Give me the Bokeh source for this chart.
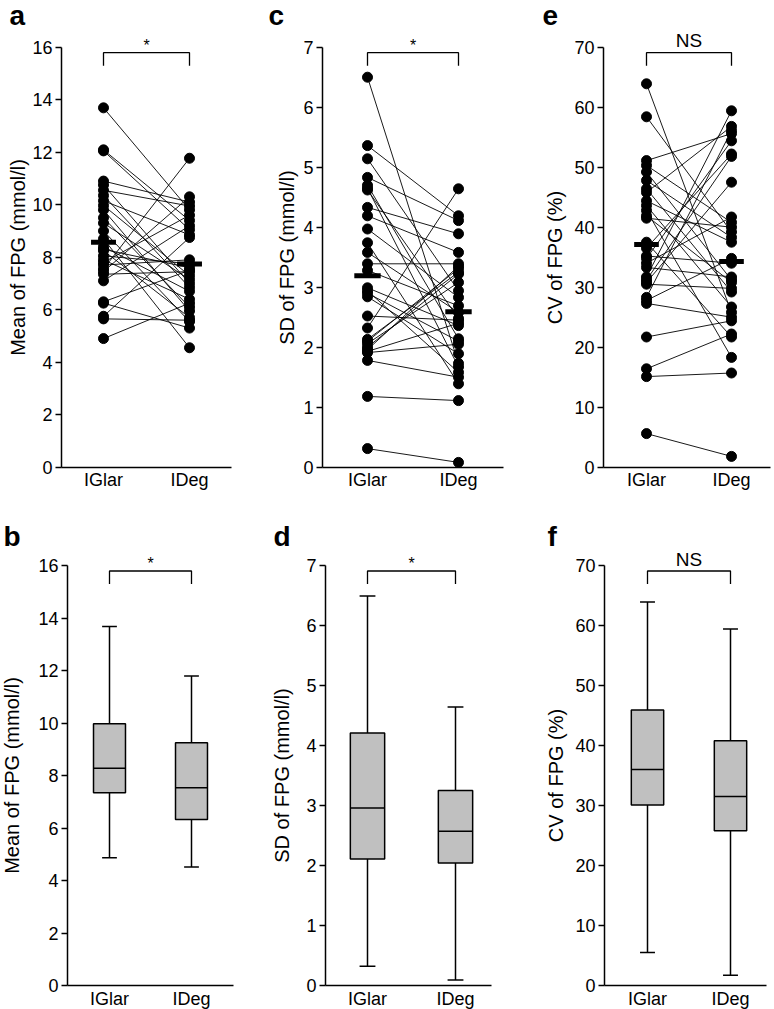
import numpy as np
from bokeh.plotting import figure
from bokeh.layouts import gridplot
from bokeh.models import FixedTicker
from bokeh.core.properties import value
from bokeh.embed import file_html
from bokeh.resources import INLINE

FONT = "Liberation Sans"
categories = ["IGlar", "IDeg"]
cat_x = [1, 2]

# ---- paired per-patient values ----
mean_iglar = [13.69, 12.09, 12.05, 10.90, 10.75, 10.55, 10.35, 10.15, 9.97, 9.80,
              9.50, 9.30, 9.00, 8.70, 8.40, 8.30, 8.25, 8.05, 7.90, 7.80,
              7.70, 7.55, 7.45, 7.35, 7.10, 6.30, 6.25, 5.75, 5.65, 4.90]
mean_ideg = [9.80, 9.40, 9.05, 10.10, 7.00, 9.95, 6.85, 8.85, 7.30, 5.95,
             6.10, 7.15, 5.55, 4.55, 6.70, 7.60, 5.70, 7.75, 6.40, 9.60,
             7.90, 11.77, 10.30, 7.45, 9.20, 7.50, 5.30, 8.75, 5.60, 6.25]

sd_iglar = [6.50, 5.36, 5.14, 4.83, 4.70, 4.65, 4.62, 4.33, 4.19, 3.97,
            3.74, 3.58, 3.39, 3.28, 2.99, 2.94, 2.90, 2.84, 2.52, 2.32,
            2.13, 2.10, 2.06, 2.00, 1.96, 1.93, 1.91, 1.78, 1.18, 0.31]
sd_ideg = [1.73, 4.19, 2.94, 4.11, 2.14, 1.67, 2.48, 3.89, 3.58, 2.83,
           1.39, 2.58, 3.39, 2.69, 2.36, 1.58, 2.10, 1.89, 2.45, 4.64,
           3.25, 3.31, 3.08, 3.22, 3.35, 2.40, 2.05, 1.50, 1.11, 0.08]

cv_iglar = [63.9, 58.4, 51.1, 50.3, 49.2, 47.8, 46.4, 45.8, 44.4, 43.6,
            42.8, 41.9, 41.5, 37.5, 36.5, 35.2, 34.8, 34.0, 33.3, 31.7,
            31.2, 30.8, 30.5, 28.3, 27.8, 27.3, 21.7, 16.4, 15.1, 5.6]
cv_ideg = [25.8, 39.2, 55.6, 40.8, 31.2, 38.3, 29.2, 56.8, 37.5, 26.7,
           18.3, 30.8, 40.0, 21.7, 52.2, 34.0, 54.4, 41.7, 31.7, 59.4,
           51.8, 47.5, 29.8, 56.1, 34.8, 25.0, 24.4, 22.2, 15.7, 1.8]

# group means (black bars)
group_mean_mean = [8.57, 7.74]
group_mean_sd = [3.19, 2.59]
group_mean_cv = [37.1, 34.3]

# box plots: [min, q1, median, q3, max]
box_mean_iglar = [4.87, 7.34, 8.28, 9.97, 13.68]
box_mean_ideg = [4.51, 6.32, 7.53, 9.25, 11.79]
box_sd_iglar = [0.32, 2.11, 2.96, 4.21, 6.49]
box_sd_ideg = [0.09, 2.04, 2.57, 3.25, 4.64]
box_cv_iglar = [5.5, 30.1, 36.0, 45.9, 63.9]
box_cv_ideg = [1.7, 25.8, 31.5, 40.8, 59.4]

significance = ["*", "*", "NS"]
y_labels = ["Mean of FPG (mmol/l)", "SD of FPG (mmol/l)", "CV of FPG (%)"]
y_max = [16, 7, 70]
y_step = [2, 1, 10]

# ---- layout (page pixels; the page has no margin) ----
TOP = dict(py=(466.7, 46.7), fy=0, h=495, letter_dy=-32.0)
BOT = dict(py=(985.0, 565.0), fy=495, h=514, letter_dy=-29.0)
specs = {
    "a": dict(row=TOP, fx=0, w=265, axis_x=61, axis_end=231, cx=(103, 189), letter_dx=-52, ls=0),
    "c": dict(row=TOP, fx=265, w=275, axis_x=322, axis_end=503, cx=(367, 458), letter_dx=-54, ls=2),
    "e": dict(row=TOP, fx=540, w=234, axis_x=603, axis_end=770, cx=(646, 731), letter_dx=-61, ls=5),
    "b": dict(row=BOT, fx=0, w=265, axis_x=67, axis_end=233, cx=(109, 191), letter_dx=-64, ls=12),
    "d": dict(row=BOT, fx=265, w=275, axis_x=325, axis_end=491, cx=(367, 455), letter_dx=-52, ls=10),
    "f": dict(row=BOT, fx=540, w=234, axis_x=604, axis_end=766, cx=(647, 730), letter_dx=-57, ls=5),
}


def make_panel(letter, k):
    s = specs[letter]
    r = s["row"]
    ymax, step = y_max[k], y_step[k]
    cx1, cx2 = s["cx"]
    py0, pytop = r["py"]
    ux = cx2 - cx1
    uy = (py0 - pytop) / ymax

    def X(px):
        return 1 + (px - cx1) / ux

    def Y(py):
        return (py0 - py) / uy

    fx, fy, w, h = s["fx"], r["fy"], s["w"], r["h"]
    p = figure(width=w, height=h,
               x_range=(X(fx), X(fx + w)), y_range=(Y(fy + h), Y(fy)),
               output_backend="svg", toolbar_location=None,
               min_border=0, min_border_left=0, min_border_right=0,
               min_border_top=0, min_border_bottom=0)
    p.grid.visible = False
    p.outline_line_color = None
    p.background_fill_color = "white"
    p.border_fill_color = "white"

    xa, ya = p.xaxis[0], p.yaxis[0]
    xa.fixed_location = 0
    xa.bounds = (X(s["axis_x"]), X(s["axis_end"]))
    xa.ticker = FixedTicker(ticks=cat_x)
    xa.major_label_overrides = {x: c for x, c in zip(cat_x, categories)}
    xa.major_tick_line_color = None
    xa.minor_tick_line_color = None
    xa.major_tick_out = 0
    xa.major_tick_in = 0
    xa.major_label_standoff = 3

    ya.fixed_location = X(s["axis_x"])
    ya.bounds = (0, ymax)
    ya.ticker = FixedTicker(ticks=list(range(0, ymax + 1, step)))
    ya.minor_tick_line_color = None
    ya.major_tick_out = 6
    ya.major_tick_in = 0
    ya.major_tick_line_width = 1.5
    ya.major_tick_line_color = "black"
    ya.major_label_standoff = 3
    ya.axis_label = y_labels[k]
    ya.axis_label_standoff = s["ls"]
    for ax in (xa, ya):
        ax.axis_line_width = 1.5
        ax.axis_line_color = "black"
        ax.major_label_text_font = FONT
        ax.major_label_text_font_size = "18px"
        ax.major_label_text_color = "black"
        ax.axis_label_text_font = FONT
        ax.axis_label_text_font_size = "20px"
        ax.axis_label_text_font_style = "normal"
        ax.axis_label_text_color = "black"

    # significance bracket
    ytop = Y(pytop + 5.5)
    ybot = Y(pytop + 18.5)
    p.line(x=[1, 1, 2, 2], y=[ybot, ytop, ytop, ybot], line_color="black", line_width=1.3)
    sig = significance[k]
    if sig == "*":
        p.text(x=[1.5], y=[Y(pytop - 2.0)], text=[sig], text_align="center",
               text_baseline="alphabetic", text_font=value(FONT), text_font_size="16px",
               text_color="black")
    else:
        p.text(x=[1.5], y=[Y(pytop - 6.5)], text=[sig], text_align="center",
               text_baseline="alphabetic", text_font=value(FONT), text_font_size="19px",
               text_color="black")
    # panel letter
    p.text(x=[X(s["axis_x"] + s["letter_dx"])], y=[Y(pytop + r["letter_dy"])], text=[letter],
           text_align="left", text_baseline="alphabetic", text_font=value(FONT),
           text_font_size="28px", text_font_style="bold", text_color="black")
    return p


def paired(p, a, b, means):
    xs = [[1, 2] for _ in a]
    ys = [[va, vb] for va, vb in zip(a, b)]
    p.multi_line(xs=xs, ys=ys, line_color="black", line_width=0.9)
    p.scatter(x=[1] * len(a), y=a, size=10, color="black")
    p.scatter(x=[2] * len(b), y=b, size=10, color="black")
    p.rect(x=cat_x, y=means, width=0.29, height=5, height_units="screen",
           fill_color="black", line_color=None)


def boxes(p, s1, s2):
    stats = [s1, s2]
    lo = [s[0] for s in stats]
    q1 = [s[1] for s in stats]
    md = [s[2] for s in stats]
    q3 = [s[3] for s in stats]
    hi = [s[4] for s in stats]
    x = np.array(cat_x, dtype=float)
    p.segment(x0=x, y0=q3, x1=x, y1=hi, line_color="black", line_width=1.5)
    p.segment(x0=x, y0=lo, x1=x, y1=q1, line_color="black", line_width=1.5)
    p.segment(x0=x - 0.09, y0=hi, x1=x + 0.09, y1=hi, line_color="black", line_width=1.5)
    p.segment(x0=x - 0.09, y0=lo, x1=x + 0.09, y1=lo, line_color="black", line_width=1.5)
    p.vbar(x=x, bottom=q1, top=q3, width=0.39, fill_color="#c0c0c0",
           line_color="black", line_width=1.5)
    p.segment(x0=x - 0.195, y0=md, x1=x + 0.195, y1=md, line_color="black", line_width=1.5)


pa = make_panel("a", 0)
paired(pa, mean_iglar, mean_ideg, group_mean_mean)
pc = make_panel("c", 1)
paired(pc, sd_iglar, sd_ideg, group_mean_sd)
pe = make_panel("e", 2)
paired(pe, cv_iglar, cv_ideg, group_mean_cv)

pb = make_panel("b", 0)
boxes(pb, box_mean_iglar, box_mean_ideg)
pd_ = make_panel("d", 1)
boxes(pd_, box_sd_iglar, box_sd_ideg)
pf = make_panel("f", 2)
boxes(pf, box_cv_iglar, box_cv_ideg)

grid = gridplot([[pa, pc, pe], [pb, pd_, pf]], toolbar_location=None)

with open("out.html", "w") as f:
    f.write(file_html(grid, INLINE))
